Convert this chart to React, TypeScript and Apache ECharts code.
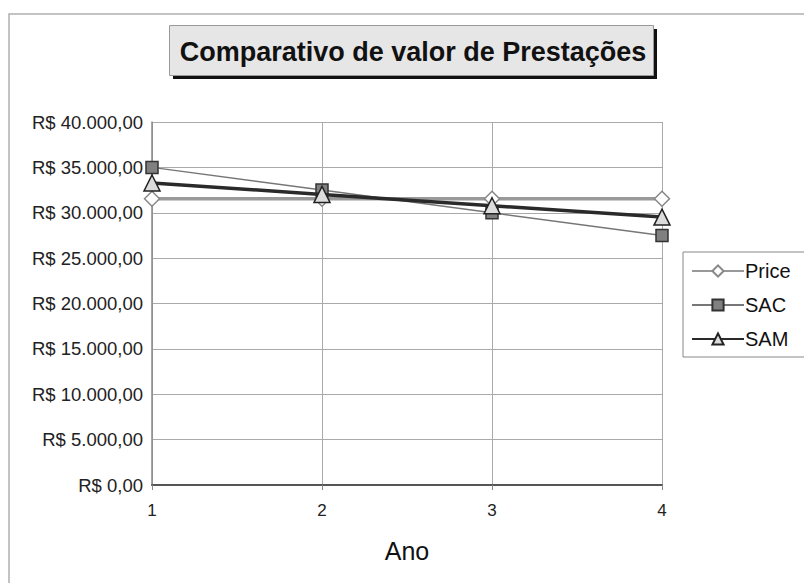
import React, { useEffect, useRef } from "react";
import * as echarts from "echarts";

const years = ["1", "2", "3", "4"];
const price = [31547, 31547, 31547, 31547];
const sac = [35000, 32500, 30000, 27500];
const sam = [33274, 32024, 30774, 29524];
const yTicks = { min: 0, max: 40000, interval: 5000 };

function fmt(v: number): string {
  const s = Math.round(v).toString().replace(/\B(?=(\d{3})+(?!\d))/g, ".");
  return "R$ " + s + ",00";
}

export default function App() {
  const ref = useRef<HTMLDivElement>(null);
  useEffect(() => {
    const chart = echarts.init(ref.current!, undefined, { renderer: "svg" });
    const font = "Liberation Sans, Arial, sans-serif";
    chart.setOption({
      animation: false,
      backgroundColor: "#ffffff",
      textStyle: { fontFamily: font },
      grid: { left: 152, right: 142, top: 122, bottom: 98, containLabel: false },
      graphic: [
        {
          type: "rect",
          shape: { x: 9, y: 14, width: 820, height: 620 },
          style: { fill: "none", stroke: "#b0b0b0", lineWidth: 1.5 },
          silent: true,
          z: -10,
        },
        {
          type: "rect",
          shape: { x: 173, y: 29, width: 484, height: 50 },
          style: { fill: "#111111" },
          z: 10,
        },
        {
          type: "rect",
          shape: { x: 169.5, y: 25.5, width: 484, height: 50 },
          style: { fill: "#e6e6e6", stroke: "#9a9a9a", lineWidth: 1 },
          z: 11,
        },
        {
          type: "text",
          x: 413,
          y: 52,
          z: 12,
          style: {
            text: "Comparativo de valor de Prestações",
            fill: "#111",
            font: "bold 27px " + font,
            textAlign: "center",
            textVerticalAlign: "middle",
          },
        },
      ],
      legend: {
        orient: "vertical",
        left: 683,
        top: 252,
        width: 130,
        itemWidth: 52,
        itemHeight: 14,
        itemGap: 14,
        padding: [9, 20, 8, 8],
        borderColor: "#888",
        borderWidth: 1,
        textStyle: {
          fontSize: 20,
          lineHeight: 20,
          color: "#111",
          fontFamily: font,
          padding: [0, 0, 0, -4],
        },
        data: ["Price", "SAC", "SAM"],
      },
      xAxis: {
        type: "category",
        data: years,
        boundaryGap: false,
        name: "Ano",
        nameLocation: "middle",
        nameGap: 53,
        nameTextStyle: { fontSize: 25, color: "#111", fontFamily: font },
        axisLine: { lineStyle: { color: "#555", width: 2 } },
        axisTick: { show: true, alignWithLabel: true, length: 5, lineStyle: { color: "#888" } },
        axisLabel: { fontSize: 17, color: "#222", margin: 17 },
        splitLine: { show: true, lineStyle: { color: "#aaa", width: 1 } },
      },
      yAxis: {
        type: "value",
        min: yTicks.min,
        max: yTicks.max,
        interval: yTicks.interval,
        axisLine: { show: true, lineStyle: { color: "#888", width: 1.5 } },
        axisTick: { show: false },
        axisLabel: { fontSize: 18.5, color: "#222", margin: 9, formatter: (v: number) => fmt(v) },
        splitLine: { show: true, lineStyle: { color: "#aaa", width: 1 } },
      },
      series: [
        {
          name: "Price",
          type: "line",
          data: price,
          symbol: "diamond",
          symbolSize: 15,
          lineStyle: { color: "#999", width: 3.5 },
          itemStyle: { color: "#ffffff", borderColor: "#888", borderWidth: 1.5 },
          z: 2,
        },
        {
          name: "SAC",
          type: "line",
          data: sac,
          symbol: "rect",
          symbolSize: 12,
          lineStyle: { color: "#777", width: 1.5 },
          itemStyle: { color: "#808080", borderColor: "#333", borderWidth: 1.5 },
          z: 3,
        },
        {
          name: "SAM",
          type: "line",
          data: sam,
          symbol: "triangle",
          symbolSize: 16,
          lineStyle: { color: "#2a2a2a", width: 3.5 },
          itemStyle: { color: "#dcdcdc", borderColor: "#222", borderWidth: 1.5 },
          z: 4,
        },
      ],
    });
    return () => chart.dispose();
  }, []);
  return (
    <div
      ref={ref}
      style={{ position: "absolute", left: 0, top: 0, width: 804, height: 583 }}
    />
  );
}
